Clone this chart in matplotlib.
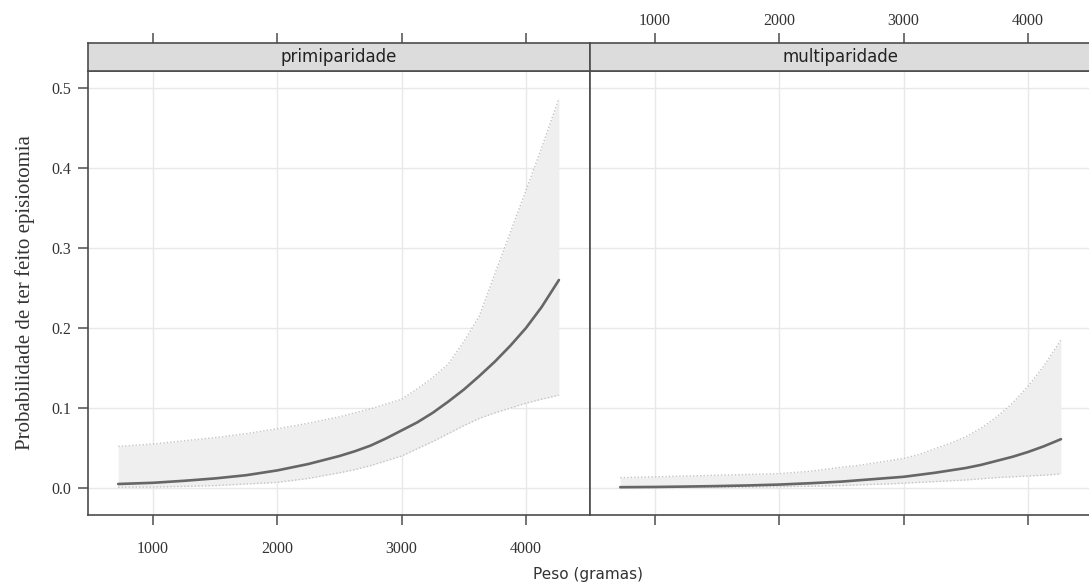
import matplotlib
matplotlib.use("Agg")
import matplotlib.pyplot as plt

# ---------------- data ----------------
panels = ["primiparidade", "multiparidade"]
peso = [720, 1000, 1250, 1500, 1750, 2000, 2250, 2500, 2625, 2750, 2875, 3000,
        3125, 3250, 3375, 3500, 3625, 3750, 3875, 4000, 4125, 4265]

prim_fit = [0.005, 0.0065, 0.009, 0.012, 0.016, 0.022, 0.030, 0.040, 0.046, 0.053, 0.062, 0.072,
            0.082, 0.094, 0.108, 0.123, 0.140, 0.158, 0.178, 0.200, 0.226, 0.260]
prim_upper = [0.052, 0.055, 0.059, 0.063, 0.068, 0.074, 0.081, 0.089, 0.094, 0.099, 0.105, 0.111,
              0.124, 0.138, 0.155, 0.183, 0.215, 0.268, 0.320, 0.372, 0.425, 0.487]
prim_lower = [0.001, 0.0012, 0.002, 0.003, 0.005, 0.007, 0.012, 0.019, 0.023, 0.028, 0.034, 0.040,
              0.049, 0.058, 0.068, 0.078, 0.087, 0.094, 0.100, 0.106, 0.111, 0.116]

mult_fit = [0.001, 0.0013, 0.0018, 0.0024, 0.0032, 0.0043, 0.006, 0.008, 0.0095, 0.011, 0.0125, 0.014,
            0.0165, 0.019, 0.022, 0.025, 0.029, 0.034, 0.039, 0.045, 0.052, 0.061]
mult_upper = [0.013, 0.014, 0.015, 0.016, 0.017, 0.018, 0.021, 0.026, 0.028, 0.031, 0.034, 0.037,
              0.042, 0.049, 0.056, 0.064, 0.075, 0.089, 0.106, 0.127, 0.152, 0.185]
mult_lower = [0.0005, 0.0005, 0.0006, 0.0008, 0.0011, 0.0016, 0.0022, 0.003, 0.0037, 0.0045, 0.005, 0.006,
              0.007, 0.008, 0.009, 0.010, 0.0115, 0.013, 0.014, 0.015, 0.016, 0.0175]

x_ticks = [1000, 2000, 3000, 4000]
y_ticks = [0.0, 0.1, 0.2, 0.3, 0.4, 0.5]
y_ticklabels = ["0.0", "0.1", "0.2", "0.3", "0.4", "0.5"]
xlabel = "Peso (gramas)"
ylabel = "Probabilidade de ter feito episiotomia"

series = {
    "primiparidade": (prim_fit, prim_lower, prim_upper),
    "multiparidade": (mult_fit, mult_lower, mult_upper),
}

# ---------------- layout ----------------
W, H = 1089, 584
fig = plt.figure(figsize=(W / 100, H / 100), dpi=100)
fig.patch.set_facecolor("white")

XLIM = (477, 4515)
YLIM = (-0.03375, 0.52125)
border = "#4d4d4d"
serif = ["Liberation Serif", "DejaVu Serif"]
sans = ["DejaVu Sans"]

panel_left = [88, 590]
panel_w = 502
top_px, bot_px, strip_top_px = 71, 515, 43

for i, name in enumerate(panels):
    l = panel_left[i] / W
    w = panel_w / W
    b = 1 - bot_px / H
    h = (bot_px - top_px) / H
    ax = fig.add_axes([l, b, w, h])
    sax = fig.add_axes([l, 1 - top_px / H, w, (top_px - strip_top_px) / H])

    fit, lo, up = series[name]
    ax.fill_between(peso, lo, up, color="#efefef", lw=0, zorder=1)
    ax.plot(peso, up, color="#c4c4c4", lw=1.0, ls=(0, (1, 1.5)), zorder=2)
    ax.plot(peso, lo, color="#c4c4c4", lw=1.0, ls=(0, (1, 1.5)), zorder=2)
    ax.plot(peso, fit, color="#666666", lw=1.9, zorder=3, solid_capstyle="round",
            solid_joinstyle="round")

    ax.set_xlim(*XLIM)
    ax.set_ylim(*YLIM)
    ax.set_xticks(x_ticks)
    ax.set_yticks(y_ticks)
    ax.grid(True, color="#e8e8e8", lw=1.0, zorder=0)
    ax.set_axisbelow(True)
    for sp in ax.spines.values():
        sp.set_color(border)
        sp.set_linewidth(1.2)
    ax.tick_params(axis="both", direction="out", length=7, width=1.1, color=border,
                   labelsize=11.5, labelcolor="#333333")
    ax.tick_params(axis="x", pad=12)
    ax.tick_params(axis="y", pad=5)
    ax.tick_params(axis="x", top=False)
    if i == 0:
        ax.set_yticklabels(y_ticklabels, fontfamily=serif)
        ax.set_xticklabels([str(t) for t in x_ticks], fontfamily=serif)
        ax.set_ylabel(ylabel, fontfamily=serif, fontsize=15, color="#333333", labelpad=12)
    else:
        ax.tick_params(axis="y", left=False, labelleft=False)
        ax.set_xticklabels([])

    # strip
    sax.set_facecolor("#dcdcdc")
    sax.set_xlim(*XLIM)
    sax.set_ylim(0, 1)
    sax.set_yticks([])
    sax.set_xticks(x_ticks)
    sax.xaxis.set_ticks_position("top")
    sax.tick_params(axis="x", direction="out", length=7, width=1.1, color=border,
                    labelsize=11.5, labelcolor="#333333", pad=3, bottom=False)
    if i == 1:
        sax.set_xticklabels([str(t) for t in x_ticks], fontfamily=serif)
    else:
        sax.set_xticklabels([])
    for sp in sax.spines.values():
        sp.set_color(border)
        sp.set_linewidth(1.2)
    sax.text(0.5, 0.5, name, transform=sax.transAxes, ha="center", va="center",
             fontsize=12, fontfamily=sans, color="#222222")

fig.text(588 / W, 1 - 575 / H, xlabel, ha="center", va="center",
         fontsize=11, fontfamily=sans, color="#333333")

fig.savefig("out.png", dpi=100, facecolor="white")
